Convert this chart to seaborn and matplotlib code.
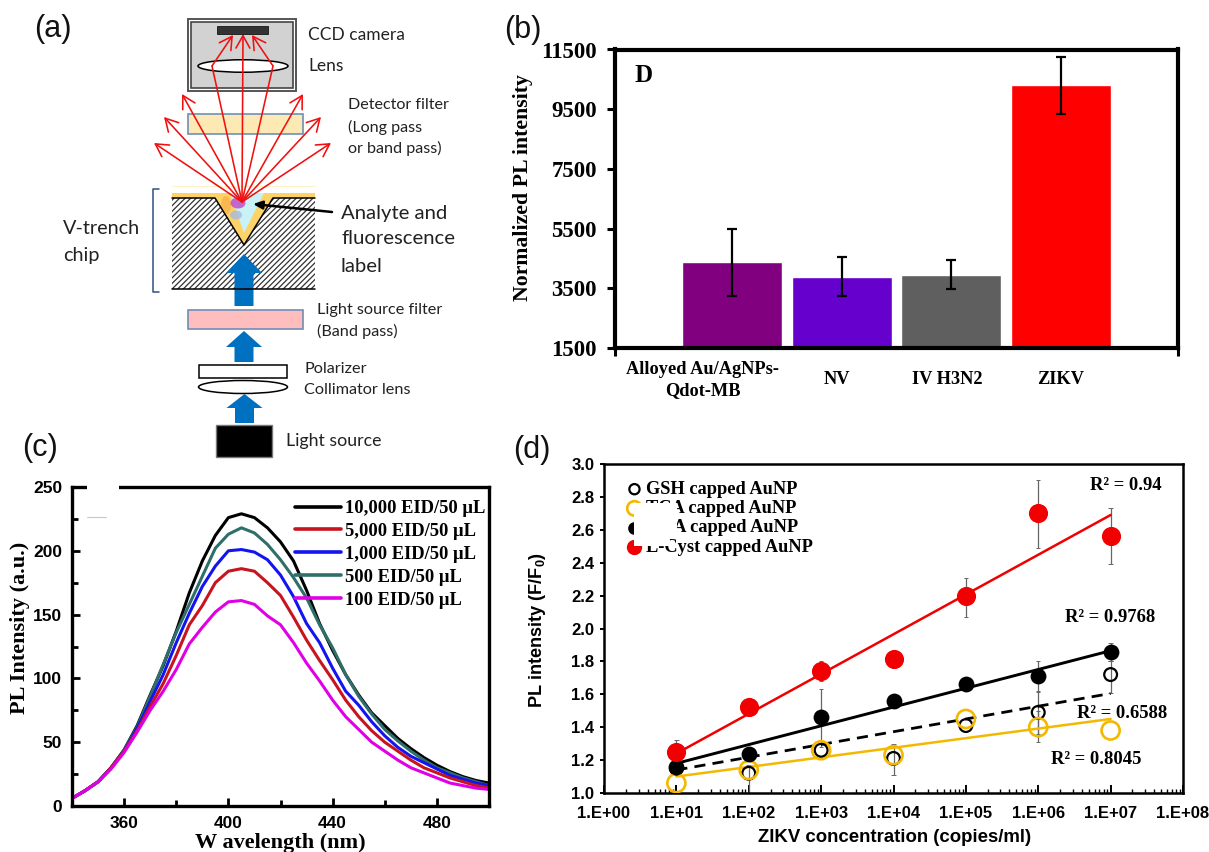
import numpy as np
import pandas as pd
import matplotlib
matplotlib.use("Agg")
import matplotlib.pyplot as plt
from matplotlib.patches import Rectangle, Ellipse, Polygon
from matplotlib.ticker import MultipleLocator, FixedLocator, NullFormatter, LogLocator
import seaborn as sns

W, H = 1209, 852
SERIF = "Liberation Serif"
SANS = "Liberation Sans"
SCHEM = "Lato"

# ---- panel (b) data
b_labels = ["Alloyed Au/AgNPs-\nQdot-MB", "NV", "IV H3N2", "ZIKV"]
b_cats = ["Alloyed", "NV", "IV H3N2", "ZIKV"]
b_vals = [4380, 3880, 3955, 10305]
b_low = [3250, 3230, 3475, 9325]
b_high = [5485, 4545, 4435, 11255]
b_colors = ["#800080", "#6600cc", "#5f5f5f", "#ff0000"]
b_ticks = [1500, 3500, 5500, 7500, 9500, 11500]

# ---- panel (c) data
wl = [340, 345, 350, 355, 360, 365, 370, 375, 380, 385, 390, 395, 400, 405, 410, 415, 420,
      425, 430, 435, 440, 445, 450, 455, 460, 465, 470, 475, 480, 485, 490, 495, 500]
pl_10000 = [6, 12, 19, 30, 44, 63, 87, 110, 137, 167, 192, 212, 226, 229, 226, 218, 207,
            192, 169, 143, 122, 103, 87, 73, 63, 53, 45, 38, 32, 27, 23, 20, 18]
pl_500 = [6, 12, 19, 30, 44, 62, 86, 111, 136, 158, 180, 202, 213, 218, 214, 205, 193,
          179, 163, 142, 124, 103, 86, 72, 60, 51, 43, 36, 30, 26, 22, 19, 16]
pl_1000 = [6, 12, 19, 30, 43, 61, 82, 103, 128, 151, 172, 188, 200, 201, 199, 193, 181,
           164, 143, 128, 108, 90, 79, 66, 55, 46, 39, 34, 29, 24, 21, 18, 16]
pl_5000 = [6, 12, 19, 30, 43, 59, 78, 96, 118, 142, 157, 175, 184, 186, 184, 175, 165,
           148, 130, 114, 99, 83, 70, 59, 50, 43, 36, 30, 26, 22, 19, 16, 14]
pl_100 = [6, 12, 19, 29, 42, 58, 75, 90, 107, 127, 140, 152, 160, 161, 158, 149, 142,
          128, 112, 98, 83, 70, 60, 50, 43, 36, 30, 26, 22, 18, 16, 14, 13]
c_names = ["10,000 EID/50 µL", "5,000 EID/50 µL", "1,000 EID/50 µL", "500 EID/50 µL", "100 EID/50 µL"]
c_colors = ["#000000", "#c8141e", "#1414f0", "#2f6f6a", "#e000e6"]

# ---- panel (d) data
conc = [1e1, 1e2, 1e3, 1e4, 1e5, 1e6, 1e7]
gsh = [1.15, 1.12, 1.26, 1.21, 1.41, 1.49, 1.72]
tca = [1.06, 1.14, 1.26, 1.23, 1.45, 1.40, 1.38]
mpa = [1.16, 1.24, 1.46, 1.56, 1.665, 1.71, 1.86]
cys = [1.25, 1.525, 1.74, 1.815, 2.195, 2.70, 2.56]
gsh_low = [np.nan, 1.00, np.nan, 1.11, np.nan, 1.36, 1.61]
gsh_high = [np.nan, 1.17, np.nan, 1.30, np.nan, 1.62, 1.80]
tca_low = [np.nan, np.nan, np.nan, np.nan, np.nan, 1.31, np.nan]
tca_high = [np.nan, np.nan, np.nan, np.nan, np.nan, 1.50, np.nan]
mpa_low = [np.nan, np.nan, 1.28, np.nan, np.nan, 1.615, 1.80]
mpa_high = [np.nan, np.nan, 1.635, np.nan, np.nan, 1.80, 1.91]
cys_low = [1.18, np.nan, 1.68, np.nan, 2.07, 2.49, 2.395]
cys_high = [1.32, np.nan, 1.80, np.nan, 2.305, 2.905, 2.73]
fit_x = [1e1, 1e7]
gsh_fit = [1.14, 1.605]
tca_fit = [1.10, 1.45]
mpa_fit = [1.18, 1.865]
cys_fit = [1.24, 2.69]
d_names = ["GSH capped AuNP", "TCA capped AuNP", "MPA capped AuNP", "L-Cyst capped AuNP"]
d_ticklabels = ["1.E+00", "1.E+01", "1.E+02", "1.E+03", "1.E+04", "1.E+05", "1.E+06", "1.E+07", "1.E+08"]

sns.set_theme(style="ticks")
plt.rcParams["font.family"] = ["Liberation Sans", "DejaVu Sans"]
plt.rcParams["mathtext.default"] = "regular"
plt.rcParams["hatch.linewidth"] = 0.9
for key in ["text.color", "axes.labelcolor", "xtick.color", "ytick.color", "axes.edgecolor"]:
    plt.rcParams[key] = "black"

fig = plt.figure(figsize=(W / 100, H / 100), dpi=100, facecolor="white")


def px_axes(l, t, r, b):
    return fig.add_axes([l / W, 1 - b / H, (r - l) / W, (b - t) / H])


# ============ panel (b)
axb = px_axes(615, 49.5, 1178, 348)
df_b = pd.DataFrame({"cat": b_cats, "val": b_vals})
sns.barplot(data=df_b, x="cat", y="val", hue="cat", palette=b_colors, width=0.913, saturation=1,
            errorbar=None, legend=False, ax=axb, zorder=2)
xb = np.arange(len(b_vals))
axb.errorbar(xb, b_vals, yerr=[np.array(b_vals) - b_low, np.array(b_high) - b_vals], fmt="none",
             ecolor="black", elinewidth=1.6, capsize=3.5, capthick=1.6, zorder=3)
axb.set_xlim(-1.067, 4.066)
axb.set_ylim(1500, 11500)
axb.set_yticks(b_ticks)
axb.set_xticks([-0.27, 0.957, 1.965, 3.0])
axb.set_xticklabels(b_labels, family=SERIF, weight="bold", fontsize=13.2, linespacing=1.3)
axb.set_xticks([-1.067, 4.066], minor=True)
axb.tick_params(axis="x", which="major", length=0, pad=23)
axb.tick_params(axis="x", which="minor", length=6, width=2.2, direction="out")
axb.tick_params(axis="y", length=6, width=2.2, direction="out", pad=7)
for t in axb.get_xticklabels():
    t.set_va("center")
for t in axb.get_yticklabels():
    t.set_family(SERIF)
    t.set_fontsize(16.5)
    t.set_weight("bold")
axb.set_xlabel("")
axb.set_ylabel("")
for s in axb.spines.values():
    s.set_linewidth(3)
    s.set_visible(True)

# ============ panel (c)
axc = px_axes(72, 487, 489, 806)
df_c = pd.DataFrame({
    "wavelength": wl * 5,
    "intensity": pl_10000 + pl_500 + pl_1000 + pl_5000 + pl_100,
    "series": [c_names[0]] * len(wl) + [c_names[3]] * len(wl) + [c_names[2]] * len(wl)
              + [c_names[1]] * len(wl) + [c_names[4]] * len(wl),
})
draw_order = [c_names[0], c_names[3], c_names[2], c_names[1], c_names[4]]
pal_c = dict(zip(c_names, c_colors))
sns.lineplot(data=df_c, x="wavelength", y="intensity", hue="series", hue_order=draw_order,
             palette=pal_c, linewidth=2.2, errorbar=None, ax=axc)
axc.set_xlim(340, 500)
axc.set_ylim(0, 250)
axc.xaxis.set_major_locator(FixedLocator([360, 400, 440, 480]))
axc.xaxis.set_minor_locator(FixedLocator([380, 420, 460]))
axc.yaxis.set_major_locator(MultipleLocator(50))
axc.yaxis.set_minor_locator(MultipleLocator(25))
axc.tick_params(which="major", direction="in", length=6, width=2, pad=7)
axc.tick_params(which="minor", direction="in", length=4, width=2)
for t in axc.get_xticklabels() + axc.get_yticklabels():
    t.set_family(SANS)
    t.set_weight("bold")
    t.set_fontsize(12.5)
axc.set_xlabel("")
axc.set_ylabel("")
for s in axc.spines.values():
    s.set_linewidth(2.4)
    s.set_visible(True)
h_c, l_c = axc.get_legend_handles_labels()
hmap = dict(zip(l_c, h_c))

# ============ panel (d)
axd = px_axes(604, 464, 1183, 793)
colors_d = {"gsh": "#000000", "tca": "#f5b800", "mpa": "#000000", "cys": "#f00000"}
for vals_low, vals_high in [(gsh_low, gsh_high), (tca_low, tca_high), (mpa_low, mpa_high), (cys_low, cys_high)]:
    axd.vlines(conc, vals_low, vals_high, color="#666666", linewidth=0.9, zorder=1.5)
    axd.hlines(vals_low, np.array(conc) * 0.93, np.array(conc) * 1.07, color="#666666", linewidth=0.7, zorder=1.5)
    axd.hlines(vals_high, np.array(conc) * 0.93, np.array(conc) * 1.07, color="#666666", linewidth=0.7, zorder=1.5)
sns.lineplot(x=fit_x, y=gsh_fit, color="black", linewidth=2, linestyle=(0, (4, 2.6)), ax=axd, errorbar=None, zorder=2)
sns.lineplot(x=fit_x, y=tca_fit, color=colors_d["tca"], linewidth=1.8, ax=axd, errorbar=None, zorder=2)
sns.lineplot(x=fit_x, y=mpa_fit, color="black", linewidth=2.1, ax=axd, errorbar=None, zorder=2)
sns.lineplot(x=fit_x, y=cys_fit, color=colors_d["cys"], linewidth=1.8, ax=axd, errorbar=None, zorder=2)
sns.scatterplot(x=conc, y=gsh, ax=axd, s=85, facecolors="none", edgecolor="black", linewidth=1.6, zorder=3, label=d_names[0])
sns.scatterplot(x=conc, y=tca, ax=axd, s=170, facecolors="none", edgecolor=colors_d["tca"], linewidth=1.9, zorder=4, label=d_names[1])
sns.scatterplot(x=conc, y=mpa, ax=axd, s=130, color="black", linewidth=0, zorder=5, label=d_names[2])
sns.scatterplot(x=conc, y=cys, ax=axd, s=190, color=colors_d["cys"], linewidth=0, zorder=6, label=d_names[3])
axd.set_xscale("log")
axd.set_xlim(1, 1e8)
axd.set_ylim(1.0, 3.0)
axd.set_yticks(np.arange(1.0, 3.01, 0.2))
axd.set_yticklabels([f"{v:.1f}" for v in np.arange(1.0, 3.01, 0.2)])
axd.set_xticks([10.0 ** k for k in range(9)])
axd.set_xticklabels(d_ticklabels)
axd.xaxis.set_minor_locator(LogLocator(base=10, subs=np.arange(2, 10), numticks=20))
axd.xaxis.set_minor_formatter(NullFormatter())
axd.tick_params(axis="x", which="major", direction="in", length=6, width=1.4, pad=9)
axd.tick_params(axis="x", which="minor", direction="in", length=3, width=1)
axd.tick_params(axis="y", direction="out", length=3, width=1.4, pad=4)
for t in axd.get_xticklabels() + axd.get_yticklabels():
    t.set_family(SANS)
    t.set_weight("bold")
    t.set_fontsize(12)
axd.set_xlabel("")
axd.set_ylabel("")
for s in axd.spines.values():
    s.set_linewidth(1.8)
    s.set_visible(True)
h_d, l_d = axd.get_legend_handles_labels()

# ============ overlay (pixel frame) : schematic, texts, masks
ov = fig.add_axes([0, 0, 1, 1], zorder=10)
ov.set_xlim(0, W)
ov.set_ylim(H, 0)
ov.axis("off")
ov.patch.set_visible(False)

axc.legend([hmap[n] for n in c_names], c_names, loc="upper left", bbox_to_anchor=(295, 500),
           bbox_transform=ov.transData, frameon=False, borderpad=0, borderaxespad=0,
           handlelength=2.48, handletextpad=0.25, labelspacing=0.32,
           prop={"family": SERIF, "weight": "bold", "size": 13.3})
for line in axc.get_legend().get_lines():
    line.set_linewidth(2.6)
axd.legend(h_d, l_d, loc="upper left", bbox_to_anchor=(623, 481), bbox_transform=ov.transData,
           frameon=False, borderpad=0, borderaxespad=0, handletextpad=0.0, handlelength=1.25,
           labelspacing=0.12, prop={"family": SERIF, "weight": "bold", "size": 13.2},
           markerscale=0.8)

# masks that hide parts of the originals
ov.add_patch(Rectangle((87, 484), 32, 33, fc="white", ec="none"))
ov.plot([87, 106], [517, 517], color="#c8c8c8", lw=0.8)
ov.add_patch(Rectangle((634, 503), 43, 32, fc="white", ec="none"))
ov.add_patch(Rectangle((634, 535), 36, 11, fc="white", ec="none"))


def label(x, y, s, size, **kw):
    kw.setdefault("va", "center")
    kw.setdefault("ha", "left")
    ov.text(x, y, s, fontsize=size, **kw)


# panel letters
for x, y, s in [(34, 29, "(a)"), (504, 30, "(b)"), (22, 448, "(c)"), (513, 450, "(d)")]:
    label(x, y, s, 22, family=SANS, color="#111111")

# axis labels
label(523, 188, "Normalized PL intensity", 15.7, family=SERIF, weight="bold", rotation=90, ha="center")
label(644, 76, "D", 18, family=SERIF, weight="bold", ha="center")
label(20, 628, "PL Intensity (a.u.)", 16, family=SERIF, weight="bold", rotation=90, ha="center")
label(280, 843, "W avelength (nm)", 16, family=SERIF, weight="bold", ha="center")
label(537, 630, r"PL intensity (F/F$_{0}$)", 13.1, family=SANS, weight="bold", rotation=90, ha="center")
label(895, 838, "ZIKV concentration (copies/ml)", 13.4, family=SANS, weight="bold", ha="center")
label(1090, 486, "R² = 0.94", 13.4, family=SERIF, weight="bold")
label(1065, 617, "R² = 0.9768", 13.4, family=SERIF, weight="bold")
label(1077, 714, "R² = 0.6588", 13.4, family=SERIF, weight="bold")
label(1051, 760, "R² = 0.8045", 13.4, family=SERIF, weight="bold")

# schematic (a): camera
ov.add_patch(Rectangle((188, 19), 108, 72, fc="white", ec="#555555", lw=1.4))
ov.add_patch(Rectangle((191, 22), 102, 66, fc="#d2d2d2", ec="#444444", lw=1.2))
ov.add_patch(Rectangle((217, 26), 51, 7.5, fc="#333333", ec="black", lw=0.5))
ov.add_patch(Ellipse((243, 66), 90, 12.5, fc="white", ec="black", lw=1.1))
# filters
ov.add_patch(Rectangle((188, 114), 115, 20, fc="#fde9b4", ec="#6f8fb5", lw=1.2))
ov.add_patch(Rectangle((188, 310), 115, 19, fc="#ffbdbd", ec="#6f8fb5", lw=1.2))
# chip
ov.plot([172, 315], [186, 186], color="#fdf3c8", lw=0.7)
ov.add_patch(Rectangle((172, 198), 143, 91, fc="white", ec="#333333", lw=0, hatch="//////"))
ov.add_patch(Polygon([(172, 193), (315, 193), (315, 198), (273, 198), (244, 245), (215, 198), (172, 198)],
                     fc="#fdd368", ec="none"))
ov.add_patch(Polygon([(230, 193), (264, 193), (244, 233)], fc="#c8f2f6", ec="none"))
ov.add_patch(Ellipse((226, 205), 10, 18, fc="#f6ad45", ec="none", alpha=0.7))
ov.add_patch(Ellipse((238, 203), 15, 11, fc="#c050c8", ec="none", alpha=0.85))
ov.add_patch(Ellipse((236, 215), 12, 9, fc="#a8b8dc", ec="none", alpha=0.8))
ov.plot([172, 215, 244, 273, 315], [198, 198, 245, 198, 198], color="black", lw=1.1)
ov.plot([172, 315], [289, 289], color="black", lw=1.1)
# bracket
ov.plot([159, 153, 153, 159], [189, 189, 292, 292], color="#2f4f80", lw=1.1)
# other optics
ov.add_patch(Rectangle((199, 365), 88, 13, fc="white", ec="black", lw=1.1))
ov.add_patch(Ellipse((243, 387), 89, 13, fc="white", ec="black", lw=1.1))
ov.add_patch(Rectangle((216, 425), 56, 32, fc="black", ec="#777777", lw=1))


# blue arrows
def blue_arrow(cx, tip, base, bottom, hw=18, sw=9.5):
    ov.add_patch(Polygon([(cx, tip), (cx + hw, base), (cx + sw, base), (cx + sw, bottom),
                          (cx - sw, bottom), (cx - sw, base), (cx - hw, base)], fc="#0070c0", ec="none"))


blue_arrow(244, 254, 273, 306)
blue_arrow(244, 331, 347, 362)
blue_arrow(244.5, 394, 408, 423)

# red rays
origin = (242, 202)
ray = dict(arrowstyle="->,head_length=0.75,head_width=0.42", color="#f01010", lw=1.15, shrinkA=0, shrinkB=0)
for tx, ty in [(154, 143), (164, 117), (182, 94), (303, 94), (321, 117), (331, 143), (243, 34)]:
    ov.annotate("", xy=(tx, ty), xytext=origin, arrowprops=ray)
for mx, tx in [(212, 233), (273, 252)]:
    ov.plot([origin[0], mx], [origin[1], 66], color="#f01010", lw=1.15)
    ov.annotate("", xy=(tx, 35), xytext=(mx, 66), arrowprops=ray)
# analyte pointer
ov.annotate("", xy=(253, 204), xytext=(332, 212),
            arrowprops=dict(arrowstyle="-|>,head_length=0.45,head_width=0.2", color="black", lw=1.8, shrinkA=0, shrinkB=0))

# schematic labels
c_t = "#222222"
for x, y, s, sz in [(308, 35, "CCD camera", 12.5), (308, 66, "Lens", 12.5),
                    (348, 105, "Detector filter", 11.6), (348, 127, "(Long pass", 11.6), (348, 148, "or band pass)", 11.6),
                    (63, 229, "V-trench", 14.3), (63, 256, "chip", 14.3),
                    (341, 213, "Analyte and", 14.6), (341, 239, "fluorescence", 14.6), (341, 266, "label", 14.6),
                    (317, 310, "Light source filter", 11.7), (317, 331, "(Band pass)", 11.7),
                    (304, 369, "Polarizer", 11.7), (304, 390, "Collimator lens", 11.7),
                    (286, 441, "Light source", 12.8)]:
    label(x, y, s, sz, family=SCHEM, color=c_t)

fig.savefig("out.png", dpi=100)
